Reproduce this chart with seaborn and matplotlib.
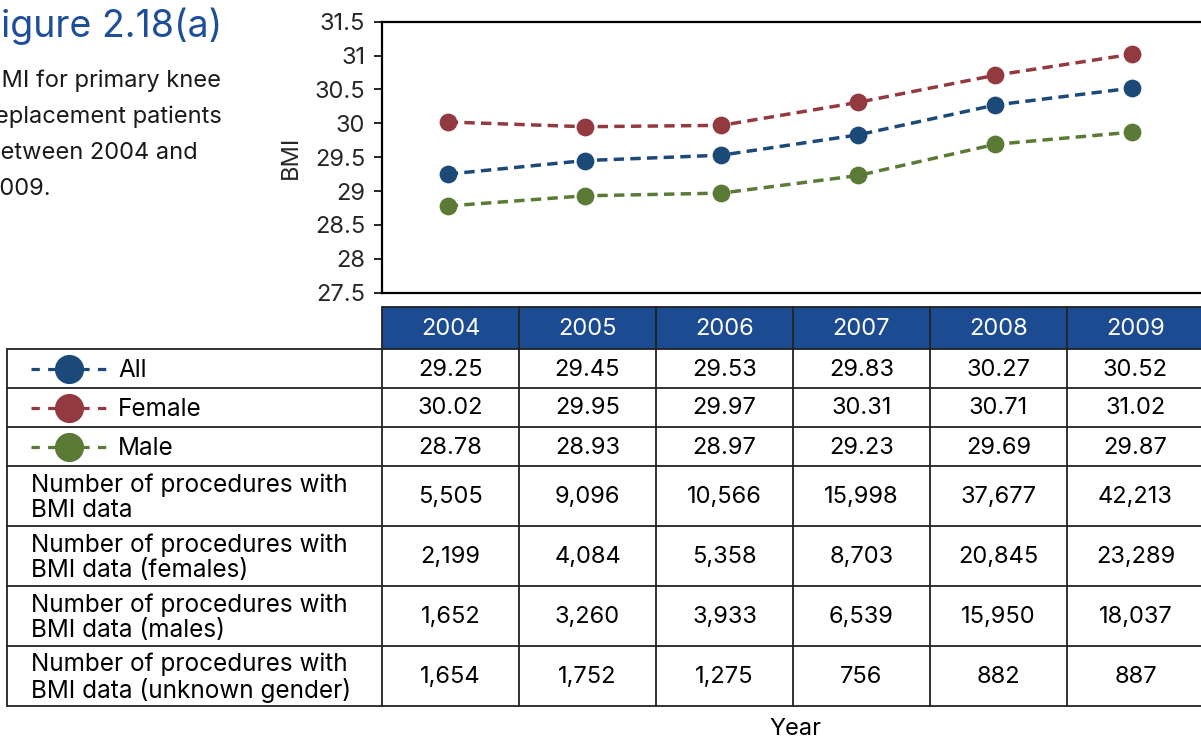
import matplotlib
matplotlib.use("Agg")
import matplotlib.pyplot as plt
from matplotlib.lines import Line2D
from matplotlib.patches import Rectangle
import seaborn as sns
import pandas as pd

# ---- data -------------------------------------------------------------
years = [2004, 2005, 2006, 2007, 2008, 2009]
bmi_all = [29.25, 29.45, 29.53, 29.83, 30.27, 30.52]
bmi_female = [30.02, 29.95, 29.97, 30.31, 30.71, 31.02]
bmi_male = [28.78, 28.93, 28.97, 29.23, 29.69, 29.87]
series_names = ["All", "Female", "Male"]

n_all = [5505, 9096, 10566, 15998, 37677, 42213]
n_female = [2199, 4084, 5358, 8703, 20845, 23289]
n_male = [1652, 3260, 3933, 6539, 15950, 18037]
n_unknown = [1654, 1752, 1275, 756, 882, 887]
count_labels = [
    "Number of procedures with\nBMI data",
    "Number of procedures with\nBMI data (females)",
    "Number of procedures with\nBMI data (males)",
    "Number of procedures with\nBMI data (unknown gender)",
]
y_ticks = [27.5, 28, 28.5, 29, 29.5, 30, 30.5, 31, 31.5]
title_text = "Figure 2.18(a)"
caption = ["BMI for primary knee", "replacement patients",
           "between 2004 and", "2009."]

colors = {"All": "#1c4a78", "Female": "#933a40", "Male": "#5a7a36"}
header_color = "#1c4b91"

# ---- figure setup -----------------------------------------------------
sns.set_theme(style="white")
FONT = ["Inter", "Liberation Sans", "DejaVu Sans"]
plt.rcParams["font.family"] = FONT

W, H = 1201, 742
fig = plt.figure(figsize=(W / 100, H / 100), dpi=100)
renderer = fig.canvas.get_renderer()


def fx(x):
    return x / W


def fy(y):
    return 1 - y / H


def text_width(s, size):
    t = fig.text(0, 0, s, fontsize=size)
    w = t.get_window_extent(renderer).width
    t.remove()
    return w


TAB_FS = 17
ROWLAB_FS = 17.5
TICK_FS = 17
CAP_FS = 17
TITLE_FS = 27

# plot area in pixel coordinates
ax_l, ax_r, ax_t, ax_b = 382, 1204, 21.7, 292.7
ax = fig.add_axes([fx(ax_l), fy(ax_b), fx(ax_r) - fx(ax_l), fy(ax_t) - fy(ax_b)])

df = pd.DataFrame({
    "Year": years * 3,
    "BMI": bmi_all + bmi_female + bmi_male,
    "Series": sum([[s] * len(years) for s in series_names], []),
})

sns.lineplot(
    data=df, x="Year", y="BMI", hue="Series", style="Series",
    palette=colors, markers={s: "o" for s in series_names},
    dashes={s: (3.0, 1.8) for s in series_names},
    markersize=12.8, markeredgewidth=0, linewidth=2.5,
    legend=False, ax=ax,
)

ax.set_xlim(2003.52, 2009.526)
ax.set_ylim(27.5, 31.5)
ax.set_yticks(y_ticks)
ax.set_yticklabels([f"{t:g}" for t in y_ticks], fontsize=TICK_FS)
ax.set_xticks([])
ax.set_xlabel("")
ax.set_ylabel("BMI", fontsize=TAB_FS, labelpad=9)
ax.tick_params(axis="y", direction="out", length=6, width=1.2, color="black",
               left=True, pad=6)
for side in ["top", "left", "bottom"]:
    ax.spines[side].set_visible(True)
    ax.spines[side].set_color("black")
    ax.spines[side].set_linewidth(1.6)
ax.spines["right"].set_visible(False)

# ---- title and caption (left-aligned block partly beyond the left edge) --
title_x = 1 - text_width("F", TITLE_FS)
fig.text(fx(title_x), fy(37), title_text, fontsize=TITLE_FS, color="#1f4e99",
         ha="left", va="baseline")
cap_x = -text_width("2", CAP_FS)
for i, line in enumerate(caption):
    fig.text(fx(cap_x), fy(87 + 36 * i), line, fontsize=CAP_FS,
             color="#1a1a1a", ha="left", va="baseline")

# ---- data table -------------------------------------------------------
col_w = (ax_r - ax_l) / len(years)
lab_l = 7
head_t, head_b = 307, 349
row_edges = [349, 388, 427, 466, 526, 586, 646, 706]
lw_tab = 1.3


def hline(x0, x1, y, lw=lw_tab):
    fig.add_artist(Line2D([fx(x0), fx(x1)], [fy(y), fy(y)], color="#222222",
                          lw=lw, transform=fig.transFigure))


def vline(x, y0, y1, lw=lw_tab):
    fig.add_artist(Line2D([fx(x), fx(x)], [fy(y0), fy(y1)], color="#222222",
                          lw=lw, transform=fig.transFigure))


# header row
fig.add_artist(Rectangle((fx(ax_l), fy(head_b)), fx(ax_r) - fx(ax_l),
                         fy(head_t) - fy(head_b), facecolor=header_color,
                         edgecolor="none", transform=fig.transFigure))
for i, yr in enumerate(years):
    cx = ax_l + (i + 0.5) * col_w
    fig.text(fx(cx), fy((head_t + head_b) / 2 + 1), str(yr), color="white",
             fontsize=TAB_FS, ha="center", va="center")
hline(ax_l, ax_r, head_t)
for i in range(len(years) + 1):
    vline(ax_l + i * col_w, head_t, row_edges[-1])

# body grid
for y in row_edges:
    hline(lab_l, ax_r, y)
vline(lab_l, row_edges[0], row_edges[-1])

bmi_rows = [bmi_all, bmi_female, bmi_male]
count_rows = [n_all, n_female, n_male, n_unknown]

for r in range(len(row_edges) - 1):
    cy = (row_edges[r] + row_edges[r + 1]) / 2 + 1
    if r < 3:
        vals = [f"{v:.2f}" for v in bmi_rows[r]]
        name = series_names[r]
        c = colors[name]
        fig.add_artist(Line2D([fx(31), fx(107)], [fy(cy - 1), fy(cy - 1)],
                              color=c, lw=2.3, dashes=(2.6, 2.6),
                              transform=fig.transFigure))
        fig.add_artist(Line2D([fx(69)], [fy(cy - 1)], color=c, marker="o",
                              markersize=21, markeredgewidth=0, lw=0,
                              transform=fig.transFigure))
        fig.text(fx(118), fy(cy + 1), name, fontsize=ROWLAB_FS, ha="left",
                 va="center", color="black")
    else:
        vals = [f"{v:,}" for v in count_rows[r - 3]]
        fig.text(fx(31), fy(cy + 1), count_labels[r - 3], fontsize=ROWLAB_FS,
                 ha="left", va="center", linespacing=1.12, color="black")
    for i, v in enumerate(vals):
        cx = ax_l + (i + 0.5) * col_w
        fig.text(fx(cx), fy(cy), v, fontsize=TAB_FS, ha="center", va="center",
                 color="black")

fig.text(fx(795), fy(729), "Year", fontsize=TAB_FS, ha="center", va="center",
         color="black")

fig.savefig("out.png", dpi=100)
